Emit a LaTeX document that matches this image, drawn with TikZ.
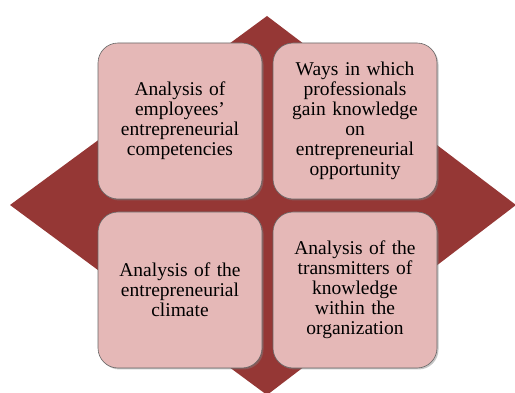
\documentclass[tikz,border=0pt]{standalone}
\usepackage{fontspec}
\setmainfont{Liberation Serif}
\usepackage{tikz}
\usetikzlibrary{shadows}
\definecolor{darkred}{RGB}{149,55,53}
\definecolor{pinkfill}{RGB}{229,184,183}
\tikzstyle{quad}=[rectangle, draw=black!60, line width=.6pt, fill=pinkfill,
  rounded corners=20pt, minimum width=164pt, minimum height=156pt,
  text width=150pt, align=center, inner sep=0pt,
  font=\fontsize{19.5}{20}\selectfont,
  drop shadow={opacity=.45, shadow xshift=1.5pt, shadow yshift=-1.5pt}]

\begin{document}
\begin{tikzpicture}[x=1pt, y=-1pt]
    \useasboundingbox (0,0) rectangle (515,393);
    % the diamond behind the boxes
    \fill[darkred] (267,16) -- (516,205) -- (267,395) -- (10,205) -- cycle;

    % the four boxes
    \node[quad] (empl) at (180,121) {Analysis of\\ employees'\\ entrepreneurial\\ competencies};
    \node[quad] (ways) at (355,121) {Ways in which\\ professionals\\ gain knowledge\\ on\\ entrepreneurial\\ opportunity};
    \node[quad] (climate) at (180,290) {Analysis of the\\ entrepreneurial\\ climate};
    \node[quad] (transm) at (355,290) {Analysis of the\\ transmitters of\\ knowledge\\ within the\\ organization};
  \end{tikzpicture}
\end{document}
